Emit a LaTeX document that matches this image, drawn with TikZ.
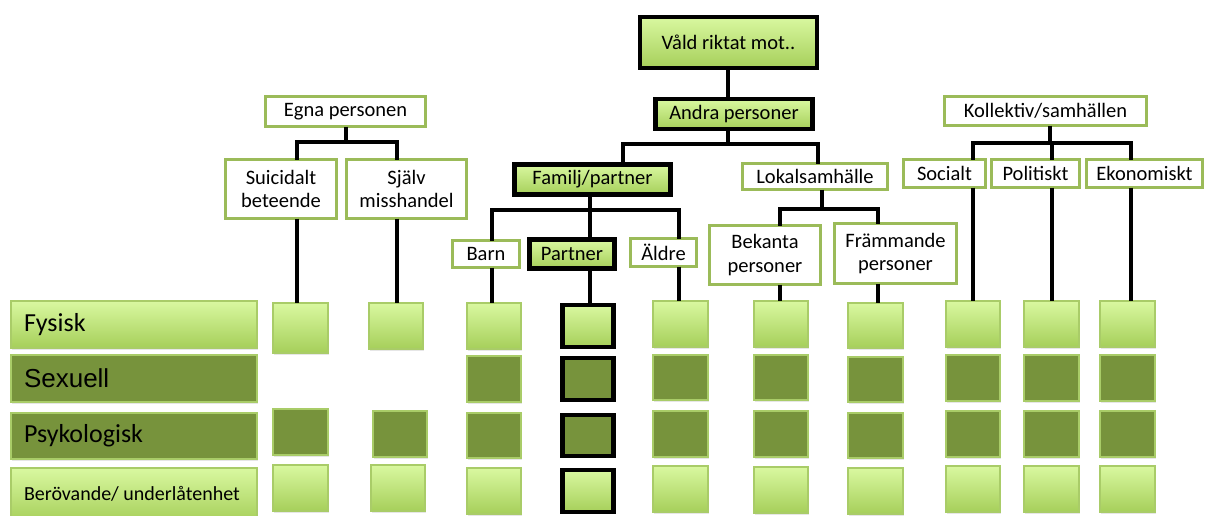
\documentclass[tikz,border=0pt]{standalone}
\usepackage{fontspec}
\setmainfont{Carlito}
\newfontfamily\arialf{Liberation Sans}
\usetikzlibrary{shadows}
\definecolor{ogreen}{HTML}{9BBB59}
\definecolor{ltop}{HTML}{D9F8A0}
\definecolor{lbot}{HTML}{A6CF5A}
\definecolor{dgreen}{HTML}{77933C}
\definecolor{sqedge}{HTML}{A9CC68}
\newcommand{\mysq}[6]{\node[#1, minimum width={(#5-#3)*1pt}, minimum height={(#6-#4)*1pt}] (#2) at ({(#3+#5)/2},{(#4+#6)/2}) {};}
\begin{document}
\begin{tikzpicture}[x=1pt,y=-1pt,
  base/.style={rectangle, inner sep=0pt, outer sep=0pt, font=\fontsize{20.5}{23.5}\selectfont, align=center, text=black},
  whitebox/.style={base, draw=ogreen, line width=3.2pt, fill=white, drop shadow={opacity=0.18, shadow xshift=0.5pt, shadow yshift=-1.5pt}},
  greenbox/.style={base, draw=black, line width=4.2pt, top color=ltop, bottom color=lbot, drop shadow={opacity=0.18, shadow xshift=0.5pt, shadow yshift=-1.5pt}},
  lightsq/.style={base, draw=sqedge, line width=1.2pt, top color=ltop, bottom color=lbot, drop shadow={opacity=0.2, shadow xshift=0.5pt, shadow yshift=-1.5pt}},
  darksq/.style={base, draw=sqedge, line width=1.2pt, fill=dgreen, drop shadow={opacity=0.2, shadow xshift=0.5pt, shadow yshift=-1.5pt}},
  plight/.style={base, draw=black, line width=4.2pt, top color=ltop, bottom color=lbot},
  pdark/.style={base, draw=black, line width=4.2pt, fill=dgreen},
  rowlabel/.style={base, align=left, anchor=west, font=\fontsize{26}{30}\selectfont},
  conn/.style={draw=black, line width=3.4pt}
]
\useasboundingbox (0,0) rectangle (1207,515);
\clip (0,0) rectangle (1207,515);

% ---------- tree boxes ----------
\node[greenbox, minimum width=177pt, minimum height=51pt] (title) at (728.5,42.5) {Våld riktat mot..};
\node[greenbox, minimum width=157pt, minimum height=30pt] (andra) at (734,114) {Andra personer};
\node[whitebox, minimum width=160pt, minimum height=30pt] (egna) at (345.5,111.5) {Egna personen};
\node[whitebox, minimum width=202pt, minimum height=29pt] (koll) at (1045.5,111) {Kollektiv/samhällen};
\node[whitebox, minimum width=111pt, minimum height=59pt] (suic) at (281,189) {Suicidalt\\beteende};
\node[whitebox, minimum width=120pt, minimum height=59pt] (sjalv) at (406.5,189) {Själv\\misshandel};
\node[greenbox, minimum width=156pt, minimum height=30pt] (familj) at (592.5,179.5) {Familj/partner};
\node[whitebox, minimum width=145pt, minimum height=26pt] (lokal) at (815,176.5) {Lokalsamhälle};
\node[whitebox, minimum width=82pt, minimum height=28pt] (soc) at (944.5,173.5) {Socialt};
\node[whitebox, minimum width=88pt, minimum height=28pt] (pol) at (1035.5,173.5) {Politiskt};
\node[whitebox, minimum width=116pt, minimum height=28pt] (eko) at (1144.5,173.5) {Ekonomiskt};
\node[whitebox, minimum width=67pt, minimum height=27pt] (barn) at (486,254) {Barn};
\node[greenbox, minimum width=85pt, minimum height=29pt] (partner) at (572,254) {Partner};
\node[whitebox, minimum width=66pt, minimum height=28pt] (aldre) at (663.5,252.5) {Äldre};
\node[whitebox, minimum width=111pt, minimum height=59pt] (bek) at (765,255) {Bekanta\\personer};
\node[whitebox, minimum width=122pt, minimum height=60pt] (fram) at (895.5,253.5) {Främmande\\personer};

% ---------- row labels ----------
\mysq{lightsq}{rFys}{11}{301}{257}{348}
\mysq{darksq}{rSex}{11}{355}{257}{402}
\mysq{darksq}{rPsy}{11}{413}{257}{459}
\mysq{lightsq}{rBer}{11}{468}{257}{522}
\node[rowlabel] at (24,324.5) {Fysisk};
\node[rowlabel, font=\fontsize{26}{30}\selectfont\arialf] at (24,378.5) {Sexuell};
\node[rowlabel] at (24,436) {Psykologisk};
\node[rowlabel, font=\fontsize{20}{24}\selectfont] at (24,494) {Berövande/ underlåtenhet};

% ---------- squares ----------
% Suicidalt
\mysq{lightsq}{sSuic1}{273}{303}{328}{353}
\mysq{darksq}{sSuic3}{273}{409}{328}{455}
\mysq{lightsq}{sSuic4}{273}{465}{328}{511}
% Själv
\mysq{lightsq}{sSjal1}{369}{303}{423}{349}
\mysq{darksq}{sSjal3}{373}{411}{427}{457}
\mysq{lightsq}{sSjal4}{371}{465}{425}{511}
% Barn
\mysq{lightsq}{sBarn1}{467}{303}{521}{349}
\mysq{darksq}{sBarn2}{467}{356}{521}{402}
\mysq{darksq}{sBarn3}{467}{413}{521}{458}
\mysq{lightsq}{sBarn4}{467}{468}{521}{514}
% Partner
\mysq{plight}{sPart1}{562.5}{305}{613.5}{347}
\mysq{pdark}{sPart2}{562.5}{358}{613.5}{400}
\mysq{pdark}{sPart3}{562.5}{415}{613.5}{456}
\mysq{plight}{sPart4}{562.5}{470}{613.5}{512}
% Äldre
\mysq{lightsq}{sAld1}{653}{301}{708}{347}
\mysq{darksq}{sAld2}{653}{355}{708}{400}
\mysq{darksq}{sAld3}{653}{411}{708}{457}
\mysq{lightsq}{sAld4}{653}{466}{708}{512}
% Bekanta
\mysq{lightsq}{sBek1}{754}{301}{808}{347}
\mysq{darksq}{sBek2}{754}{355}{808}{400}
\mysq{darksq}{sBek3}{754}{411}{808}{457}
\mysq{lightsq}{sBek4}{754}{467}{808}{513}
% Främmande
\mysq{lightsq}{sFra1}{848}{303}{903}{348}
\mysq{darksq}{sFra2}{848}{357}{903}{402}
\mysq{darksq}{sFra3}{848}{413}{903}{458}
\mysq{lightsq}{sFra4}{848}{468}{903}{514}
% Socialt
\mysq{lightsq}{sSoc1}{946}{301}{1000}{347}
\mysq{darksq}{sSoc2}{946}{355}{1000}{401}
\mysq{darksq}{sSoc3}{946}{411}{1000}{457}
\mysq{lightsq}{sSoc4}{946}{466}{1000}{512}
% Politiskt
\mysq{lightsq}{sPol1}{1024}{301}{1079}{347}
\mysq{darksq}{sPol2}{1024}{355}{1079}{401}
\mysq{darksq}{sPol3}{1024}{411}{1079}{457}
\mysq{lightsq}{sPol4}{1024}{466}{1079}{512}
% Ekonomiskt
\mysq{lightsq}{sEko1}{1100}{301}{1155}{347}
\mysq{darksq}{sEko2}{1100}{355}{1155}{401}
\mysq{darksq}{sEko3}{1100}{411}{1155}{457}
\mysq{lightsq}{sEko4}{1100}{466}{1155}{512}

% ---------- connector columns and junctions ----------
\coordinate (xTop) at (728,0);
\coordinate (jAndra) at (728,144);
\coordinate (xFam) at (623,0);
\coordinate (xLok) at (818,0);
\coordinate (jEgna) at (346,142);
\coordinate (xSuic) at (297,0);
\coordinate (xSjal) at (397,0);
\coordinate (jKoll) at (1050,143);
\coordinate (xSoc) at (973,0);
\coordinate (xPol) at (1052,0);
\coordinate (xEko) at (1131,0);
\coordinate (jFam) at (590,210);
\coordinate (xBarn) at (492,0);
\coordinate (xPart) at (590,0);
\coordinate (xAld) at (679,0);
\coordinate (jLok) at (822,209);
\coordinate (xBek) at (780,0);
\coordinate (xFra) at (878,0);

% top
\draw[conn] (title.south -| xTop) -- (andra.north -| xTop);
\draw[conn] (andra.south -| xTop) -- (jAndra);
\draw[conn] (familj.north -| xFam) |- (jAndra) -| (lokal.north -| xLok);
% egna
\draw[conn] (egna.south -| jEgna) -- (jEgna);
\draw[conn] (suic.north -| xSuic) |- (jEgna) -| (sjalv.north -| xSjal);
\draw[conn] (suic.south -| xSuic) -- (sSuic1.north -| xSuic);
\draw[conn] (sjalv.south -| xSjal) -- (sSjal1.north -| xSjal);
% kollektiv
\draw[conn] (koll.south -| jKoll) -- (jKoll);
\draw[conn] (soc.north -| xSoc) |- (jKoll) -| (eko.north -| xEko);
\draw[conn] (jKoll -| xPol) -- (pol.north -| xPol);
\draw[conn] (soc.south -| xSoc) -- (sSoc1.north -| xSoc);
\draw[conn] (pol.south -| xPol) -- (sPol1.north -| xPol);
\draw[conn] (eko.south -| xEko) -- (sEko1.north -| xEko);
% familj
\draw[conn] (familj.south -| jFam) -- (jFam);
\draw[conn] (barn.north -| xBarn) |- (jFam) -| (aldre.north -| xAld);
\draw[conn] (jFam) -- (partner.north -| xPart);
\draw[conn] (barn.south -| xBarn) -- (sBarn1.north -| xBarn);
\draw[conn] (partner.south -| xPart) -- (sPart1.north -| xPart);
\draw[conn] (aldre.south -| xAld) -- (sAld1.north -| xAld);
% lokal
\draw[conn] (lokal.south -| jLok) -- (jLok);
\draw[conn] (bek.north -| xBek) |- (jLok) -| (fram.north -| xFra);
\draw[conn] (bek.south -| xBek) -- (sBek1.north -| xBek);
\draw[conn] (fram.south -| xFra) -- (sFra1.north -| xFra);
\end{tikzpicture}
\end{document}
